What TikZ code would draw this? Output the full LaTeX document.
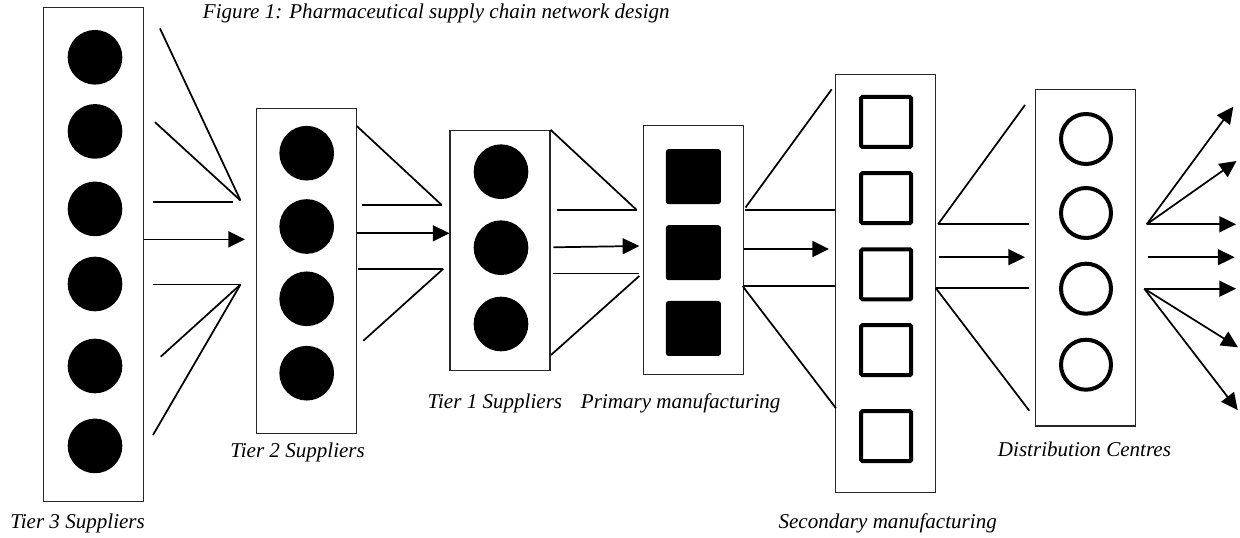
\documentclass[tikz,border=0pt]{standalone}
\usepackage{fontspec}
\setmainfont{Liberation Serif}
\usetikzlibrary{arrows.meta}
\begin{document}
\begin{tikzpicture}[x=0.75pt,y=-0.75pt,
  stage/.style={draw=black!85,line width=0.8pt,minimum width=75pt,inner sep=0pt},
  dot/.style={circle,fill=black,minimum size=41pt,inner sep=0pt},
  ring/.style={circle,draw=black,line width=3pt,minimum size=37.5pt,inner sep=0pt},
  block/.style={rectangle,fill=black,rounded corners=2pt,minimum size=41.25pt,inner sep=0pt},
  cell/.style={rectangle,draw=black,line width=3pt,rounded corners=1pt,minimum size=37.5pt,inner sep=0pt},
  link/.style={line width=1.3pt},
  flow/.style={link,-{Triangle[length=12.5pt,width=12pt]}},
  caption/.style={font=\fontsize{15.8}{19}\selectfont\itshape,inner sep=0pt}
]
\useasboundingbox (0,0) rectangle (1240,538);

% stage boxes
\node[stage,minimum height=370.5pt] (t3) at (93.3,254.5)  {};
\node[stage,minimum height=244.1pt] (t2) at (306.2,271.2) {};
\node[stage,minimum height=180pt]   (t1) at (500,250.3)   {};
\node[stage,minimum height=187pt,minimum width=75.2pt] (pm) at (693.2,250.3) {};
\node[stage,minimum height=313.7pt] (sm) at (885.5,283.2) {};
\node[stage,minimum height=252.5pt] (dc) at (1085.3,257.7) {};

% members of each stage
\foreach \y [count=\i] in {57.3,131.4,208.9,284,366,445.9}
  \node[dot] (t3s\i) at (95,\y) {};
\foreach \y [count=\i] in {153.2,226.5,298.8,373.2}
  \node[dot] (t2s\i) at (306.7,\y) {};
\foreach \y [count=\i] in {171.7,247.7,324}
  \node[dot] (t1s\i) at (501,\y) {};
\foreach \y [count=\i] in {176.6,252.7,328.5}
  \node[block] (pm\i) at (693.4,\y) {};
\foreach \y [count=\i] in {122,198.2,274.3,350.2,436.2}
  \node[cell] (sm\i) at (886.2,\y) {};
\foreach \y [count=\i] in {139,213,288.7,364.7}
  \node[ring] (dc\i) at (1086,\y) {};

% tier 3 -> tier 2
\coordinate (h32a) at (240.5,200.5);
\coordinate (h32b) at (240.5,284.5);
\draw[link] (160,28.5) -- (h32a);
\draw[link] (155,122.2) -- (h32a);
\draw[link] (153,201.7) -- (233.3,201.7);
\draw[flow] (t3.east |- 0,239.4) -- (245,239.4);
\draw[link] (153,284.5) -- (h32b);
\draw[link] (160.7,356.7) -- (h32b);
\draw[link] (153,435) -- (h32b);

% tier 2 -> tier 1
\coordinate (h21a) at (441.7,205);
\coordinate (h21b) at (443.3,268.8);
\draw[link] (t2.east |- 0,126) -- (h21a);
\draw[link] (361.7,205) -- (h21a);
\draw[flow] (t2.east |- 0,233.3) -- (t1.west |- 0,233.3);
\draw[link] (358.3,268.8) -- (h21b);
\draw[link] (363.3,340.8) -- (h21b);

% tier 1 -> primary manufacturing
\coordinate (h1pa) at (636.7,210);
\draw[link] (t1.north east) -- (h1pa);
\draw[link] (556.7,210) -- (h1pa);
\draw[flow] (553.3,247.3) -- (639.3,246);
\draw[link] (553.3,273.5) -- (638.7,273.5);
\draw[link] (551,355) -- (639.3,276);

% primary -> secondary manufacturing
\coordinate (hpsa) at (745.5,207.5);
\coordinate (hpsb) at (742.5,286);
\draw[link] (hpsa) -- (831.7,89.3);
\draw[link] (744.5,210.3) -- (sm.west |- 0,210.3);
\draw[flow] (744,249) -- (829,249);
\draw[link] (hpsb) -- (sm.west |- 0,286);
\draw[link] (hpsb) -- (836,408.3);

% secondary manufacturing -> distribution centres
\coordinate (hsda) at (938,224.3);
\coordinate (hsdb) at (935.7,288);
\draw[link] (hsda) -- (1025,105);
\draw[link] (hsda) -- (1029.3,224.3);
\draw[flow] (939.3,257.2) -- (1025,257.2);
\draw[link] (hsdb) -- (1029.3,288);
\draw[link] (hsdb) -- (1029.3,410.7);

% distribution centres -> customers
\coordinate (hdoa) at (1146.7,224.3);
\coordinate (hdob) at (1144.3,288.7);
\draw[flow] (hdoa) -- (1233.3,106.7);
\draw[flow] (hdoa) -- (1236.5,161);
\draw[flow] (hdoa) -- (1236,224.3);
\draw[flow] (1148.3,257.2) -- (1234.5,257.2);
\draw[flow] (hdob) -- (1236,288.7);
\draw[flow] (hdob) -- (1238,347.3);
\draw[flow] (hdob) -- (1237.7,410);

% captions
\node[caption,anchor=base west] (title) at (202.7,18.3) {Figure 1: Pharmaceutical supply chain network design};
\node[caption,anchor=base west] (lt3) at (10,528.3) {Tier 3 Suppliers};
\node[caption,anchor=base west] (lt2) at (230,457.4) {Tier 2 Suppliers};
\node[caption,anchor=base west] (lt1) at (427.3,408.3) {Tier 1 Suppliers};
\node[caption,anchor=base west] (lpm) at (580.7,408.3) {Primary manufacturing};
\node[caption,anchor=base west] (lsm) at (778.3,528.3) {Secondary manufacturing};
\node[caption,anchor=base west] (ldc) at (997.7,456.7) {Distribution Centres};
\end{tikzpicture}
\end{document}
